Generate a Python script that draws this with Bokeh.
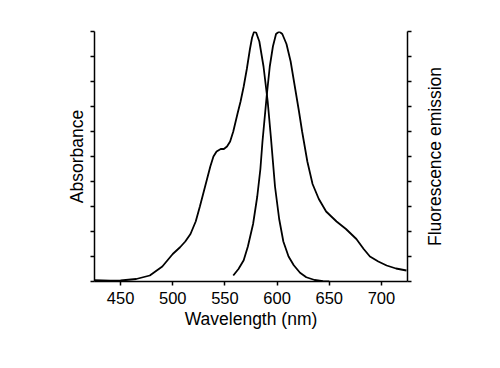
from bokeh.plotting import figure
from bokeh.layouts import row
from bokeh.models import LinearAxis, Range1d, FixedTicker, CustomJSTickFormatter
from bokeh.embed import file_html
from bokeh.resources import INLINE

abs_wl = [425, 440, 450, 465, 478, 490, 500, 507, 512, 517, 522, 526, 531, 536, 539, 542, 546, 549,
          552, 555, 558, 562, 565, 568, 571, 574, 576, 578, 580, 583, 587, 591, 594, 598, 602,
          606, 611, 616, 622, 628, 636, 644, 650]
abs_val = [0.005, 0.003, 0.004, 0.01, 0.024, 0.06, 0.11, 0.137, 0.16, 0.19, 0.24, 0.30, 0.38, 0.46,
           0.50, 0.52, 0.53, 0.53, 0.54, 0.56, 0.60, 0.67, 0.72, 0.78, 0.85, 0.93, 0.975, 1.0, 0.995,
           0.96, 0.86, 0.72, 0.58, 0.38, 0.25, 0.16, 0.10, 0.065, 0.035, 0.017, 0.006, 0.001, 0.0]

em_wl = [558, 563, 568, 572, 577, 581, 584, 586, 590, 593, 596, 599, 602, 605, 609, 613, 617,
         621, 624, 629, 634, 640, 647, 652, 657, 666, 676, 683, 689, 697, 705, 714, 724]
em_val = [0.024, 0.05, 0.085, 0.14, 0.23, 0.34, 0.45, 0.56, 0.74, 0.86, 0.94, 0.99, 1.0, 0.99,
          0.95, 0.88, 0.78, 0.68, 0.60, 0.48, 0.39, 0.33, 0.28, 0.26, 0.24, 0.21, 0.17, 0.13,
          0.10, 0.08, 0.064, 0.052, 0.044]

x_ticks = [450, 500, 550, 600, 650, 700]
y_ticks = [i / 10 for i in range(11)]

FONT = "Liberation Sans"

p = figure(width=420, height=360, output_backend="svg", toolbar_location=None,
           x_range=Range1d(425, 725), y_range=Range1d(0, 1),
           min_border_left=94, min_border_right=13, min_border_top=31, min_border_bottom=79,
           y_axis_location=None)
p.grid.visible = False
p.outline_line_color = None
p.background_fill_color = "white"
p.border_fill_color = "white"

# bottom axis
xa = p.xaxis[0]
xa.ticker = FixedTicker(ticks=x_ticks)
xa.minor_tick_line_color = None
xa.major_tick_out = 4
xa.major_tick_in = 0
xa.axis_line_width = 1.5
xa.major_tick_line_width = 1.5
xa.axis_line_color = "black"
xa.major_label_text_font = FONT
xa.major_label_text_font_size = "16.5px"
xa.major_label_text_color = "black"
xa.major_label_standoff = 6
xa.axis_label = "Wavelength (nm)"
xa.axis_label_text_font = FONT
xa.axis_label_text_font_size = "17.5px"
xa.axis_label_text_font_style = "normal"
xa.axis_label_text_color = "black"
xa.axis_label_standoff = 2

blank = CustomJSTickFormatter(code="return ''")

for side, label in (("left", "Absorbance"), ("right", None)):
    ax = LinearAxis(ticker=FixedTicker(ticks=y_ticks), formatter=blank)
    ax.minor_tick_line_color = None
    ax.major_tick_out = 4
    ax.major_tick_in = 0
    ax.axis_line_width = 1.5
    ax.major_tick_line_width = 1.5
    ax.axis_line_color = "black"
    ax.major_label_standoff = 0
    if label:
        ax.axis_label = label
        ax.axis_label_text_font = FONT
        ax.axis_label_text_font_size = "17.5px"
        ax.axis_label_text_font_style = "normal"
        ax.axis_label_text_color = "black"
        ax.axis_label_standoff = 4
    p.add_layout(ax, side)

p.line(abs_wl, abs_val, line_color="black", line_width=1.8)
p.line(em_wl, em_val, line_color="black", line_width=1.8)

# companion strip carrying the right-hand label, reading bottom-to-top
p2 = figure(width=30, height=360, output_backend="svg", toolbar_location=None,
            x_range=Range1d(0, 1), y_range=Range1d(0, 1),
            min_border_left=24, min_border_right=0, min_border_top=31, min_border_bottom=79,
            x_axis_location=None, y_axis_location=None)
p2.grid.visible = False
p2.outline_line_color = None
p2.background_fill_color = "white"
p2.border_fill_color = "white"
ax2 = LinearAxis(ticker=FixedTicker(ticks=[]), formatter=blank)
ax2.axis_line_color = None
ax2.major_tick_line_color = None
ax2.minor_tick_line_color = None
ax2.major_label_standoff = 0
ax2.axis_label = "Fluorescence emission"
ax2.axis_label_text_font = FONT
ax2.axis_label_text_font_size = "17.5px"
ax2.axis_label_text_font_style = "normal"
ax2.axis_label_text_color = "black"
ax2.axis_label_standoff = 0
p2.add_layout(ax2, "left")

layout = row(p, p2)
open("out.html", "w").write(file_html(layout, INLINE))
